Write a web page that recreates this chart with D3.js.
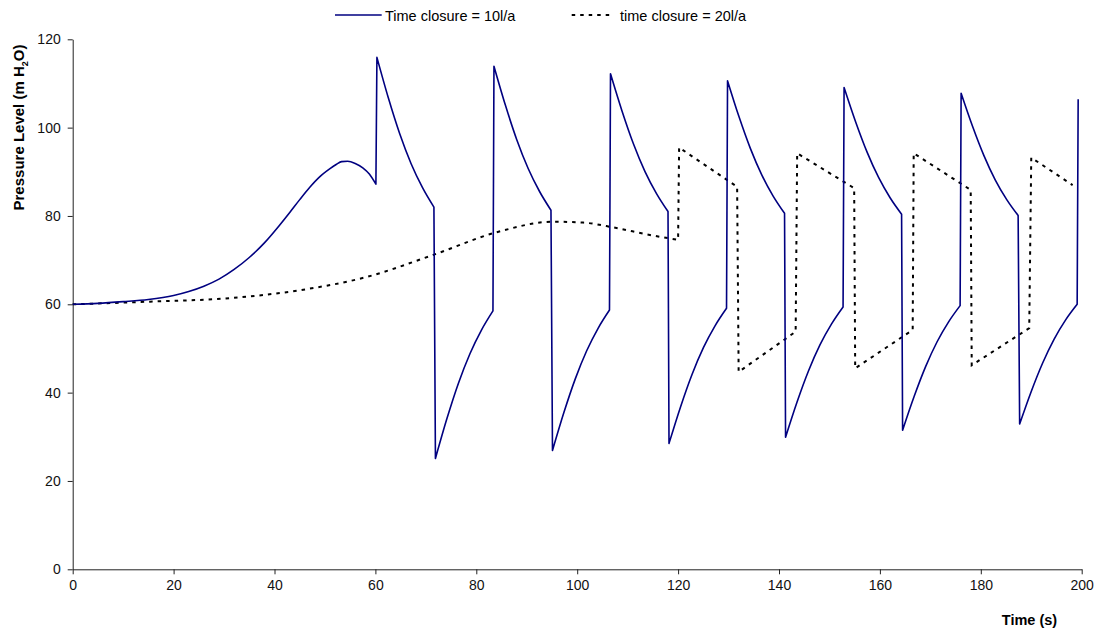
<!DOCTYPE html>
<html>
<head>
<meta charset="utf-8">
<script src="https://cdn.jsdelivr.net/npm/d3@7"></script>
<style>
  html, body { margin: 0; padding: 0; background: #fff; }
  svg { display: block; font-family: "Liberation Sans", Arial, sans-serif; }
</style>
</head>
<body>
<svg id="chart" width="1103" height="634"></svg>
<script>
// ---- Data ----
const xTicks = [0, 20, 40, 60, 80, 100, 120, 140, 160, 180, 200];
const yTicks = [0, 20, 40, 60, 80, 100, 120];
const seriesNames = ["Time closure = 10l/a", "time closure = 20l/a"];

// Series 1: time closure = 10 l/a (time in s, pressure in m H2O)
const t10 = [
  0, 5, 10, 15, 20, 23, 26, 29, 32, 35, 38, 41, 43.1, 45, 47, 49, 51, 52.3, 53.3, 54.5, 56, 57.5, 58.8, 60.1,
  60.3, 62.56, 64.82, 67.08, 69.34, 71.6,
  71.9, 74.18, 76.46, 78.74, 81.02, 83.3,
  83.5, 85.76, 88.02, 90.28, 92.54, 94.8,
  95.1, 97.36, 99.62, 101.88, 104.14, 106.4,
  106.6, 108.88, 111.16, 113.44, 115.72, 118.0,
  118.2, 120.48, 122.76, 125.04, 127.32, 129.6,
  129.8, 132.06, 134.32, 136.58, 138.84, 141.1,
  141.3, 143.58, 145.86, 148.14, 150.42, 152.7,
  152.9, 155.18, 157.46, 159.74, 162.02, 164.3,
  164.5, 166.78, 169.06, 171.34, 173.62, 175.9,
  176.1, 178.36, 180.62, 182.88, 185.14, 187.4,
  187.7, 189.98, 192.26, 194.54, 196.82, 199.1,
  199.3
];
const p10 = [
  60, 60.2, 60.6, 61.1, 62.0, 62.9, 64.1, 65.7, 67.9, 70.6, 73.9, 77.9, 80.9, 83.7, 86.5, 88.9, 90.7, 91.7, 92.3, 92.4, 91.9, 90.9, 89.5, 87.2,
  115.9, 106.75, 98.61, 91.83, 86.41, 82.0,
  25.1, 34.12, 42.13, 48.81, 54.16, 58.5,
  113.9, 105.10, 97.27, 90.75, 85.54, 81.3,
  26.9, 35.49, 43.12, 49.48, 54.57, 58.7,
  112.2, 103.78, 96.29, 90.05, 85.06, 81.0,
  28.5, 36.76, 44.11, 50.23, 55.12, 59.1,
  110.6, 102.5, 95.3, 89.3, 84.5, 80.6,
  29.9, 37.87, 44.95, 50.85, 55.57, 59.4,
  109.1, 101.35, 94.46, 88.72, 84.13, 80.4,
  31.5, 39.11, 45.88, 51.52, 56.03, 59.7,
  107.8, 100.32, 93.67, 88.13, 83.70, 80.1,
  32.9, 40.22, 46.72, 52.14, 56.48, 60.0,
  106.4
];

// Series 2: time closure = 20 l/a
const t20 = [
  0, 15.3, 31.2, 45.1, 58.3, 71.5, 84.0, 95.3, 101.2, 107.2, 114.4, 120.0,
  120.2, 131.7,
  132.0, 143.3,
  143.6, 154.9,
  155.1, 166.5,
  166.7, 178.0,
  178.2, 189.6,
  190.0, 198.2
];
const p20 = [
  60, 60.6, 61.4, 63.2, 66.2, 71.2, 76.3, 78.7, 78.5, 77.4, 75.7, 74.6,
  95.5, 86.6,
  44.7, 53.8,
  94.2, 86.3,
  45.5, 54.2,
  94.2, 85.9,
  46.2, 54.6,
  93.2, 87.0
];

// ---- Layout ----
const svg = d3.select("#chart");
const plotL = 72.7, plotR = 1081.7, plotT = 39.3, plotB = 569.3;

const x = d3.scaleLinear().domain([0, 200]).range([plotL, plotR]);
const y = d3.scaleLinear().domain([0, 120]).range([plotB, plotT]);

// Axes
const xAxis = d3.axisBottom(x).tickValues(xTicks).tickSize(5).tickPadding(6).tickSizeOuter(0);
const yAxis = d3.axisLeft(y).tickValues(yTicks).tickSize(5).tickPadding(7).tickSizeOuter(0);

const gx = svg.append("g").attr("transform", `translate(0,${plotB})`).call(xAxis);
const gy = svg.append("g").attr("transform", `translate(${plotL},0)`).call(yAxis);
[gx, gy].forEach(g => {
  g.selectAll("path.domain").attr("stroke", "#222").attr("stroke-width", 1);
  g.selectAll(".tick line").attr("stroke", "#222").attr("stroke-width", 1);
  g.selectAll(".tick text").attr("fill", "#111").style("font-size", "14px")
    .style("font-family", "'Liberation Sans', Arial, sans-serif");
});

// Line builder: smooth within runs, straight across jumps
function buildPath(ts, ps) {
  const pts = ts.map((t, i) => [t, ps[i]]);
  const runs = [];
  let cur = [pts[0]];
  for (let i = 1; i < pts.length; i++) {
    if (pts[i][0] - pts[i - 1][0] < 0.5) { runs.push(cur); cur = [pts[i]]; }
    else cur.push(pts[i]);
  }
  runs.push(cur);
  const gen = d3.line().x(d => x(d[0])).y(d => y(d[1])).curve(d3.curveMonotoneX);
  return runs.map((r, i) => {
    const s = r.length > 1 ? gen(r) : `M${x(r[0][0])},${y(r[0][1])}`;
    return i === 0 ? s : "L" + s.slice(1);
  }).join("");
}

svg.append("path")
  .attr("d", buildPath(t20, p20))
  .attr("fill", "none")
  .attr("stroke", "#000")
  .attr("stroke-width", 2)
  .attr("stroke-dasharray", "3.5,5");

svg.append("path")
  .attr("d", buildPath(t10, p10))
  .attr("fill", "none")
  .attr("stroke", "#000080")
  .attr("stroke-width", 1.6)
  .attr("stroke-linejoin", "round");

// Axis titles
svg.append("text")
  .attr("transform", "translate(24,127.5) rotate(-90)")
  .attr("text-anchor", "middle")
  .style("font-size", "15px").style("font-weight", "bold").attr("fill", "#000")
  .call(t => {
    t.append("tspan").text("Pressure Level (m H");
    t.append("tspan").text("2").attr("dy", 4).style("font-size", "9px");
    t.append("tspan").text("O)").attr("dy", -4);
  });

svg.append("text")
  .attr("x", 1029.5).attr("y", 625)
  .attr("text-anchor", "middle")
  .style("font-size", "14.5px").style("font-weight", "bold").attr("fill", "#000")
  .text("Time (s)");

// Legend
const legend = svg.append("g");
legend.append("line").attr("x1", 335).attr("x2", 381.7).attr("y1", 15).attr("y2", 15)
  .attr("stroke", "#000080").attr("stroke-width", 1.6);
legend.append("text").attr("x", 385).attr("y", 20.5).style("font-size", "14.5px").attr("fill", "#000")
  .text(seriesNames[0]);
legend.append("line").attr("x1", 571.7).attr("x2", 611.7).attr("y1", 15).attr("y2", 15)
  .attr("stroke", "#000").attr("stroke-width", 2).attr("stroke-dasharray", "3.5,5");
legend.append("text").attr("x", 620).attr("y", 20.5).style("font-size", "14.5px").attr("fill", "#000")
  .text(seriesNames[1]);
</script>
</body>
</html>
